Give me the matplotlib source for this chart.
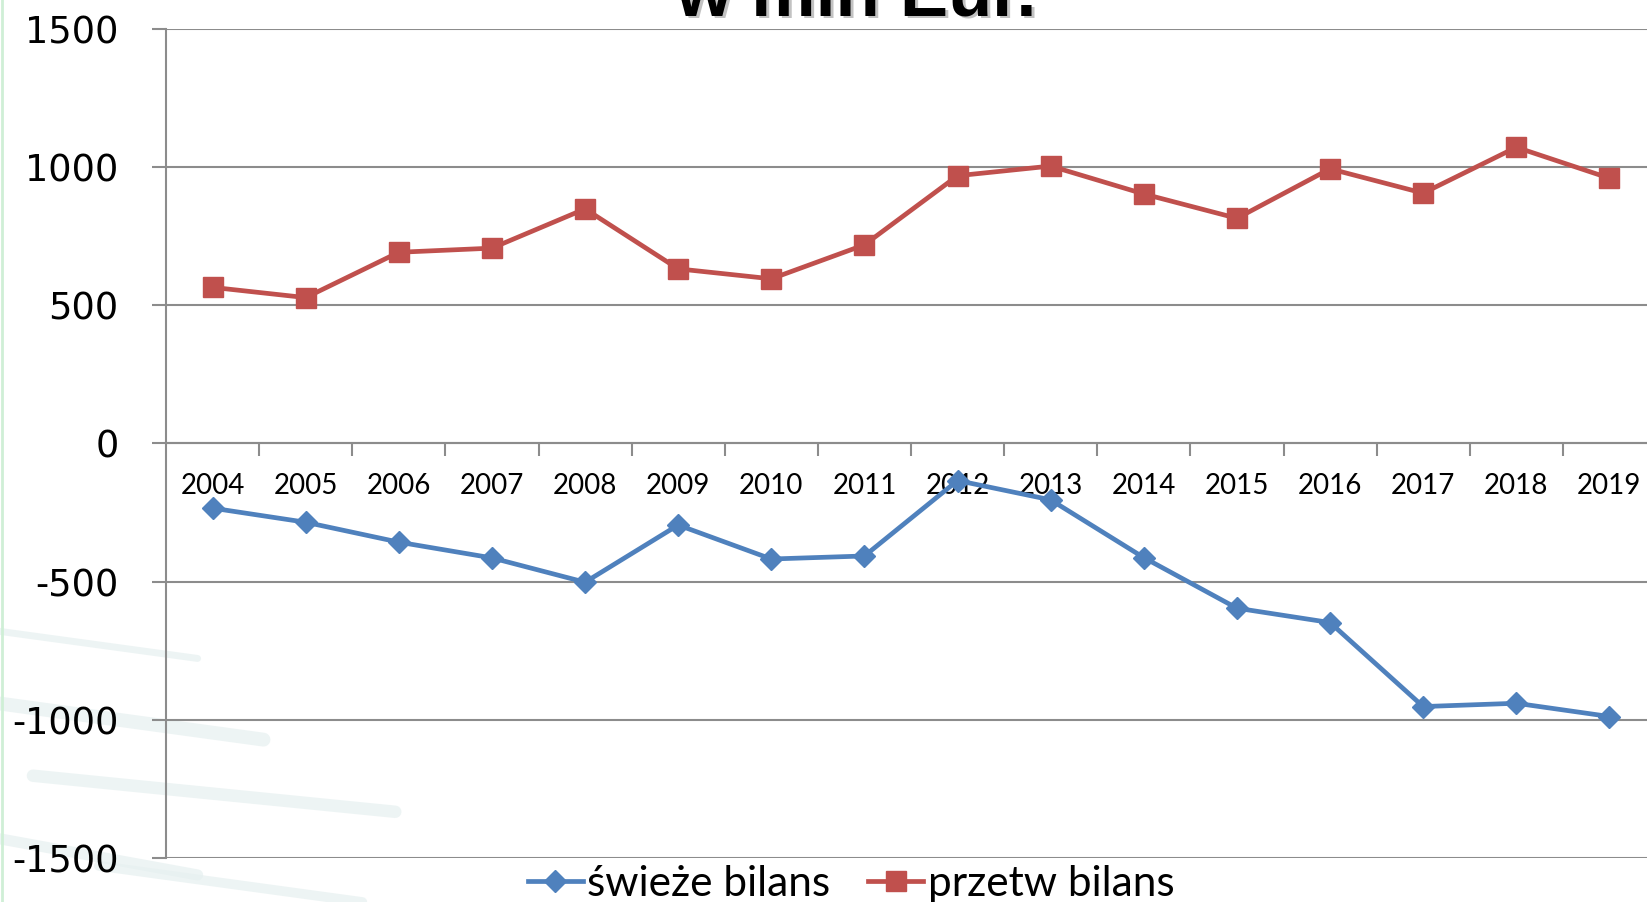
import numpy as np
import matplotlib
matplotlib.use('Agg')
import matplotlib.pyplot as plt
from matplotlib.lines import Line2D

# data (values in mln EUR)
years = ['2004', '2005', '2006', '2007', '2008', '2009', '2010', '2011',
         '2012', '2013', '2014', '2015', '2016', '2017', '2018', '2019']
swieze = [-234, -285, -357, -414, -502, -295, -418, -407,
          -134, -204, -413, -596, -648, -952, -940, -988]
przetw = [565, 528, 692, 707, 849, 632, 596, 719,
          969, 1004, 903, 815, 994, 906, 1072, 960]
yticks = [-1500, -1000, -500, 0, 500, 1000, 1500]

blue = '#4F81BD'
red = '#C0504D'
grid_col = '#8C8C8C'

fig = plt.figure(figsize=(16.47, 9.02), dpi=100)
fig.patch.set_facecolor('white')

# faint watermark strokes in the background, bottom left
for x0, y0, x1, y1, w in [(0.0, 0.30, 0.12, 0.27, 5), (0.0, 0.22, 0.16, 0.18, 10),
                          (0.02, 0.14, 0.24, 0.10, 9), (0.0, 0.07, 0.12, 0.03, 8),
                          (0.06, 0.04, 0.22, 0.0, 7)]:
    fig.add_artist(Line2D([x0, x1], [y0, y1], transform=fig.transFigure,
                          color='#E6F0F0', lw=w, alpha=0.7, zorder=0,
                          solid_capstyle='round'))
fig.add_artist(Line2D([0.001, 0.001], [0, 1], transform=fig.transFigure,
                      color='#CFEFD6', lw=2, zorder=0))

ax = fig.add_axes([166 / 1647, 1 - 858 / 902, 1490 / 1647, 829 / 902])
ax.patch.set_alpha(0)

x = np.arange(len(years))
ax.plot(x, przetw, color=red, lw=3.4, marker='s', markersize=14,
        markeredgecolor=red, zorder=4, clip_on=False)
ax.plot(x, swieze, color=blue, lw=3.4, marker='D', markersize=11,
        markeredgecolor=blue, zorder=4, clip_on=False)

ax.set_xlim(-0.5, len(years) - 0.5)
ax.set_ylim(-1500, 1500)

# y axis
ax.set_yticks(yticks)
ax.set_yticklabels([str(v) for v in yticks], fontsize=26.5, family='DejaVu Sans')
ax.tick_params(axis='y', length=10, width=1.5, color=grid_col, pad=24)
ax.grid(axis='y', color=grid_col, lw=1.5, zorder=1)
ax.set_axisbelow(True)

# x axis crosses at zero, ticks between categories
ax.spines['bottom'].set_position(('data', 0))
ax.spines['bottom'].set_color(grid_col)
ax.spines['bottom'].set_linewidth(1.5)
ax.spines['left'].set_color(grid_col)
ax.spines['left'].set_linewidth(1.5)
ax.spines['top'].set_visible(False)
ax.spines['right'].set_visible(False)
ax.set_xticks(x + 0.5)
ax.set_xticklabels([])
ax.tick_params(axis='x', which='major', length=9, width=1.5, color=grid_col)
ax.set_xticks(x, minor=True)
ax.set_xticklabels(years, minor=True, fontsize=20, family='Lato')
ax.tick_params(axis='x', which='minor', length=0, pad=21)

# title, only the lower part is visible in the original
fig.text(856 / 1647 + 0.002, 1 - 18 / 902, 'w mln Eur.', ha='center', va='baseline',
         fontsize=52, fontweight='bold', family='Liberation Sans', color='#9A9A9A',
         alpha=0.6)
fig.text(856 / 1647, 1 - 15 / 902, 'w mln Eur.', ha='center', va='baseline',
         fontsize=52, fontweight='bold', family='Liberation Sans', color='black')

handles = [Line2D([], [], color=blue, lw=3.4, marker='D', markersize=11),
           Line2D([], [], color=red, lw=3.4, marker='s', markersize=14)]
fig.legend(handles, ['świeże bilans', 'przetw bilans'], loc='center',
           bbox_to_anchor=(851 / 1647, 1 - 884 / 902), ncol=2, frameon=False,
           prop={'family': 'Lato', 'size': 30.5}, handlelength=1.3,
           handletextpad=0.1, columnspacing=0.9, borderpad=0, numpoints=1)

fig.savefig('out.png', dpi=100)
